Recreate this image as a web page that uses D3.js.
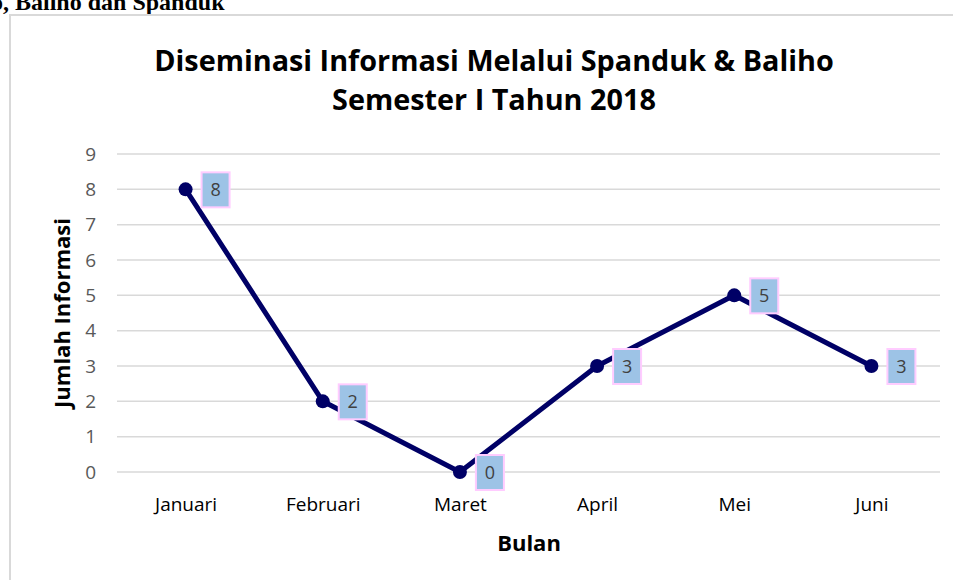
<!DOCTYPE html>
<html>
<head>
<meta charset="utf-8">
<script src="https://cdn.jsdelivr.net/npm/d3@7"></script>
<style>
  body { margin: 0; background: #fff; }
  svg { display: block; }
</style>
</head>
<body>
<div id="chart"></div>
<script>
// data
const months = ['Januari', 'Februari', 'Maret', 'April', 'Mei', 'Juni']
const counts = [8, 2, 0, 3, 5, 3]
const yTicks = [0, 1, 2, 3, 4, 5, 6, 7, 8, 9]

const width = 953
const height = 580
const font = '"Open Sans", sans-serif'

const svg = d3.select('#chart')
    .append('svg')
    .attr('width', width)
    .attr('height', height)

// heading of the page, cut at the top
svg.append('text')
    .attr('x', -9)
    .attr('y', 10)
    .attr('font-family', '"Liberation Serif", serif')
    .attr('font-weight', 'bold')
    .attr('font-size', 24)
    .text('o, Baliho dan Spanduk')

// chart frame
svg.append('rect')
    .attr('x', 10)
    .attr('y', 15)
    .attr('width', 970)
    .attr('height', 600)
    .attr('fill', '#fff')
    .attr('stroke', '#d9d9d9')
    .attr('stroke-width', 2)

// title
const title = svg.append('text')
    .attr('text-anchor', 'middle')
    .attr('font-family', font)
    .attr('font-weight', 'bold')
    .attr('font-size', 28.8)
    .attr('fill', '#000')
title.append('tspan').attr('x', 494).attr('y', 71)
    .text('Diseminasi Informasi Melalui Spanduk & Baliho')
title.append('tspan').attr('x', 494).attr('y', 110)
    .text('Semester I Tahun 2018')

// scales
const xScale = d3.scalePoint()
    .domain(months)
    .range([117, 940])
    .padding(0.5)

const yScale = d3.scaleLinear()
    .domain([0, 9])
    .range([472, 154])

// gridlines
svg.append('g')
    .selectAll('line')
    .data(yTicks)
    .join('line')
    .attr('x1', 117)
    .attr('x2', 940)
    .attr('y1', d => yScale(d))
    .attr('y2', d => yScale(d))
    .attr('stroke', '#d9d9d9')
    .attr('stroke-width', 1.5)

// y axis
const yAxis = d3.axisLeft(yScale)
    .tickValues(yTicks)
    .tickSize(0)
    .tickPadding(0)

const yG = svg.append('g')
    .attr('transform', 'translate(96,0)')
    .call(yAxis)
yG.select('.domain').remove()
yG.selectAll('text')
    .attr('font-family', font)
    .attr('font-size', 19)
    .attr('fill', '#595959')

// x axis
const xAxis = d3.axisBottom(xScale).tickSize(0).tickPadding(0)
const xG = svg.append('g')
    .attr('transform', 'translate(0,511)')
    .call(xAxis)
xG.select('.domain').remove()
xG.selectAll('text')
    .attr('dy', 0)
    .attr('font-family', font)
    .attr('font-size', 19)
    .attr('fill', '#000')

// axis titles
svg.append('text')
    .attr('transform', 'translate(70,313) rotate(-90)')
    .attr('text-anchor', 'middle')
    .attr('font-family', font)
    .attr('font-weight', 'bold')
    .attr('font-size', 22)
    .text('Jumlah Informasi')

svg.append('text')
    .attr('x', 529)
    .attr('y', 551)
    .attr('text-anchor', 'middle')
    .attr('font-family', font)
    .attr('font-weight', 'bold')
    .attr('font-size', 22)
    .text('Bulan')

// line + points
const line = d3.line()
    .x((d, i) => xScale(months[i]))
    .y(d => yScale(d))

svg.append('path')
    .datum(counts)
    .attr('d', line)
    .attr('fill', 'none')
    .attr('stroke', '#000066')
    .attr('stroke-width', 5)
    .attr('stroke-linejoin', 'round')

svg.append('g')
    .selectAll('circle')
    .data(counts)
    .join('circle')
    .attr('cx', (d, i) => xScale(months[i]))
    .attr('cy', d => yScale(d))
    .attr('r', 7)
    .attr('fill', '#000066')

// data labels
const labels = svg.append('g')
    .selectAll('g')
    .data(counts)
    .join('g')
    .attr('transform', (d, i) => `translate(${xScale(months[i]) + 16},${yScale(d)})`)

labels.append('rect')
    .attr('x', 0)
    .attr('y', -17)
    .attr('width', 28)
    .attr('height', 35)
    .attr('fill', '#9dc3e6')
    .attr('stroke', '#ffccff')
    .attr('stroke-width', 2)

labels.append('text')
    .attr('x', 14)
    .attr('y', 7)
    .attr('text-anchor', 'middle')
    .attr('font-family', font)
    .attr('font-size', 18)
    .attr('fill', '#404040')
    .text(d => d)
</script>
</body>
</html>
